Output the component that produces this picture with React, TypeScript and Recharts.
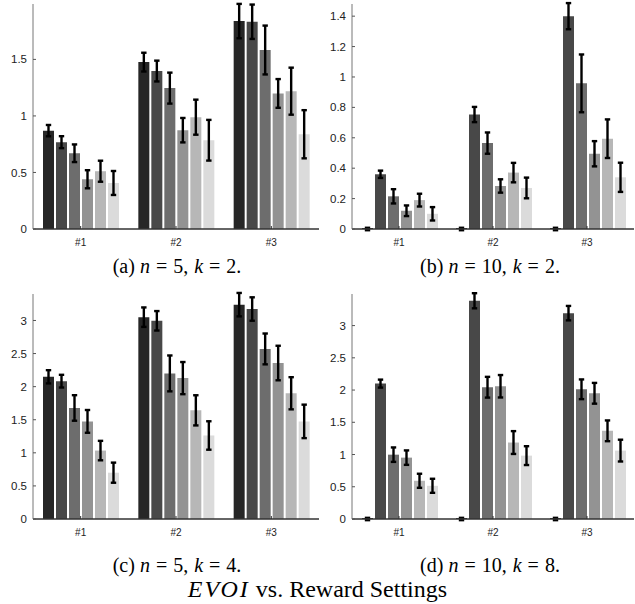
import { Bar, BarChart, ErrorBar, XAxis, YAxis } from "recharts";

const groups = ["#1", "#2", "#3"];
const shades = ["#262626", "#484848", "#6d6d6d", "#939393", "#b7b7b7", "#dbdbdb"];

// (a) n = 5, k = 2 — one row per series, one value per group
const meanA = [
  [0.87, 1.476, 1.839],
  [0.768, 1.397, 1.833],
  [0.67, 1.246, 1.583],
  [0.44, 0.874, 1.199],
  [0.511, 0.989, 1.219],
  [0.407, 0.785, 0.838],
];
const errA = [
  [0.05, 0.083, 0.152],
  [0.053, 0.092, 0.152],
  [0.078, 0.137, 0.216],
  [0.08, 0.108, 0.127],
  [0.093, 0.155, 0.208],
  [0.106, 0.18, 0.213],
];

// (b) n = 10, k = 2
const meanB = [
  [0, 0, 0],
  [0.36, 0.753, 1.4],
  [0.215, 0.565, 0.958],
  [0.12, 0.283, 0.495],
  [0.19, 0.371, 0.594],
  [0.1, 0.27, 0.34],
];
const errB = [
  [0.008, 0.008, 0.008],
  [0.024, 0.05, 0.086],
  [0.047, 0.07, 0.19],
  [0.035, 0.044, 0.083],
  [0.042, 0.064, 0.127],
  [0.044, 0.068, 0.096],
];

// (c) n = 5, k = 4
const meanC = [
  [2.149, 3.05, 3.239],
  [2.083, 2.995, 3.173],
  [1.678, 2.2, 2.57],
  [1.475, 2.129, 2.357],
  [1.034, 1.642, 1.9],
  [0.7, 1.262, 1.475],
];
const errC = [
  [0.1, 0.147, 0.177],
  [0.096, 0.147, 0.177],
  [0.193, 0.271, 0.233],
  [0.172, 0.243, 0.261],
  [0.147, 0.228, 0.243],
  [0.152, 0.215, 0.253],
];

// (d) n = 10, k = 8
const meanD = [
  [0, 0, 0],
  [2.1, 3.385, 3.193],
  [0.998, 2.044, 2.012],
  [0.952, 2.059, 1.95],
  [0.593, 1.186, 1.368],
  [0.515, 0.983, 1.061],
];
const errD = [
  [0.018, 0.018, 0.018],
  [0.062, 0.117, 0.112],
  [0.112, 0.161, 0.153],
  [0.112, 0.174, 0.161],
  [0.109, 0.177, 0.161],
  [0.109, 0.146, 0.169],
];

const ticksHalf = [0, 0.5, 1, 1.5, 2, 2.5, 3];
const ticksFifth = [0, 0.2, 0.4, 0.6, 0.8, 1, 1.2, 1.4];

function rows(mean: number[][], err: number[][]) {
  return groups.map((g, gi) => {
    const r: any = { name: g };
    mean.forEach((s, si) => {
      r["s" + si] = s[gi];
      r["e" + si] = err[si][gi];
    });
    return r;
  });
}

const sans = "'Liberation Sans', Arial, sans-serif";
const serif = "'Liberation Serif', 'Times New Roman', serif";

function Panel({
  mean,
  err,
  ymax,
  ticks,
  left,
  top,
  width,
}: {
  mean: number[][];
  err: number[][];
  ymax: number;
  ticks: number[];
  left: number;
  top: number;
  width: number;
}) {
  const data = rows(mean, err);
  return (
    <div style={{ position: "absolute", left, top }}>
      <BarChart
        width={width}
        height={250}
        data={data}
        margin={{ top: 4, right: 1, left: 0, bottom: 0 }}
        barCategoryGap={10}
        barGap={2}
      >
        <XAxis
          dataKey="name"
          height={21}
          tickSize={-3}
          tickMargin={13}
          axisLine={{ stroke: "#333", strokeWidth: 1.6 }}
          tickLine={{ stroke: "#333" }}
          tick={{ fontSize: 10, fill: "#222", fontFamily: sans }}
        />
        <YAxis
          type="number"
          domain={[0, ymax]}
          ticks={ticks.filter((t) => t <= ymax)}
          width={33}
          tickSize={-3}
          tickMargin={9}
          allowDataOverflow
          axisLine={{ stroke: "#777" }}
          tickLine={{ stroke: "#555" }}
          tick={{ fontSize: 11.5, fill: "#222", fontFamily: sans }}
        />
        {mean.map((_, si) => (
          <Bar
            key={si}
            dataKey={"s" + si}
            fill={shades[si]}
            minPointSize={1}
            isAnimationActive={false}
          >
            <ErrorBar
              dataKey={"e" + si}
              width={2.7}
              strokeWidth={2.4}
              stroke="#000"
              direction="y"
              isAnimationActive={false}
            />
          </Bar>
        ))}
      </BarChart>
    </div>
  );
}

const eq = <span style={{ margin: "0 6px" }}>=</span>;

function Caption({ x, y, tag, n, k }: { x: number; y: number; tag: string; n: number; k: number }) {
  return (
    <div
      style={{
        position: "absolute",
        left: x - 130,
        width: 260,
        top: y,
        textAlign: "center",
        fontFamily: serif,
        fontSize: 20,
        lineHeight: "20px",
        color: "#000",
        whiteSpace: "nowrap",
      }}
    >
      ({tag}) <i>n</i>
      {eq}
      {n},<span style={{ marginLeft: 1 }}> </span>
      <i>k</i>
      {eq}
      {k}.
    </div>
  );
}

export default function App() {
  return (
    <div
      style={{
        position: "absolute",
        left: 0,
        top: 0,
        width: 635,
        height: 604,
        background: "#fff",
        overflow: "hidden",
      }}
    >
      <Panel mean={meanA} err={errA} ymax={1.99} ticks={ticksHalf} left={0} top={0} width={320} />
      <Panel mean={meanB} err={errB} ymax={1.48} ticks={ticksFifth} left={319} top={0} width={316} />
      <Panel mean={meanC} err={errC} ymax={3.4} ticks={ticksHalf} left={0} top={290} width={320} />
      <Panel mean={meanD} err={errD} ymax={3.49} ticks={ticksHalf} left={319} top={290} width={316} />
      <Caption x={177} y={256} tag="a" n={5} k={2} />
      <Caption x={490} y={256} tag="b" n={10} k={2} />
      <Caption x={177} y={555} tag="c" n={5} k={4} />
      <Caption x={490} y={555} tag="d" n={10} k={8} />
      <div
        style={{
          position: "absolute",
          left: 0,
          width: 635,
          top: 578,
          textAlign: "center",
          fontFamily: serif,
          fontSize: 24,
          lineHeight: "23px",
          whiteSpace: "nowrap",
        }}
      >
        <i style={{ letterSpacing: 2 }}>EVOI</i> vs. Reward Settings
      </div>
    </div>
  );
}
